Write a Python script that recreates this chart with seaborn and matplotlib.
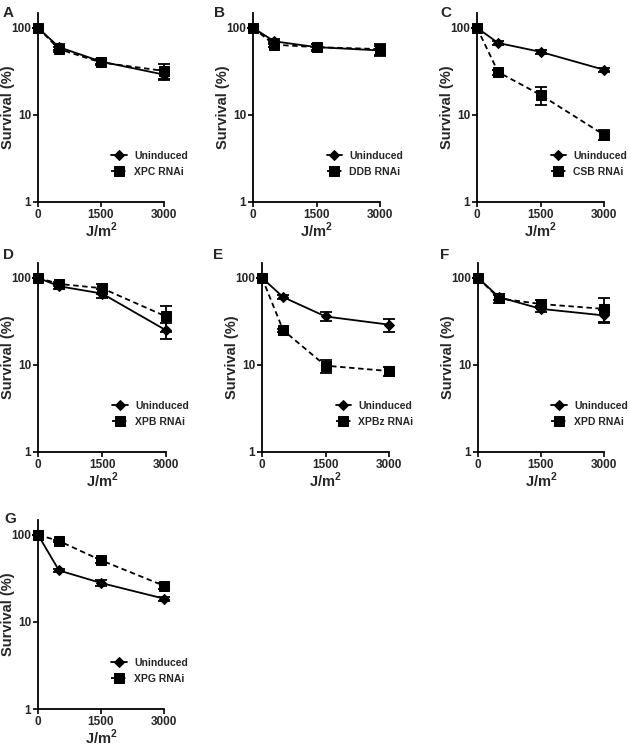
import numpy as np
import pandas as pd
import matplotlib
matplotlib.use("Agg")
import matplotlib.pyplot as plt
import seaborn as sns

sns.set_theme(style="ticks")
plt.rcParams['font.family'] = ['Liberation Sans', 'DejaVu Sans']
plt.rcParams['font.weight'] = 'bold'
plt.rcParams['mathtext.fontset'] = 'custom'
plt.rcParams['mathtext.bf'] = 'Liberation Sans:bold'
plt.rcParams['mathtext.rm'] = 'Liberation Sans:bold'

doses = [0, 500, 1500, 3000]
panel_letters = ["A", "B", "C", "D", "E", "F", "G"]
rnai_names = ["XPC RNAi", "DDB RNAi", "CSB RNAi", "XPB RNAi", "XPBz RNAi", "XPD RNAi", "XPG RNAi"]

unind_A = [100, 60, 41, 29]; unind_A_err = [0, 5, 3, 4]
rnai_A = [100, 57, 40, 32]; rnai_A_err = [0, 4, 3, 6]
unind_B = [100, 70, 60, 55]; unind_B_err = [0, 4, 5, 7]
rnai_B = [100, 64, 60, 57]; rnai_B_err = [0, 4, 6, 8]
unind_C = [100, 67, 53, 33]; unind_C_err = [0, 3, 3, 2]
rnai_C = [100, 31, 17, 5.9]; rnai_C_err = [0, 2, 4, 0.8]
unind_D = [100, 80, 66, 25]; unind_D_err = [0, 5, 8, 5]
rnai_D = [100, 85, 76, 36]; rnai_D_err = [0, 4, 10, 12]
unind_E = [100, 60, 36, 29]; unind_E_err = [0, 3, 4, 5]
rnai_E = [100, 25, 9.8, 8.5]; rnai_E_err = [0, 1, 1.7, 1]
unind_F = [100, 60, 44, 37]; unind_F_err = [0, 5, 3, 6]
rnai_F = [100, 58, 50, 44]; rnai_F_err = [0, 6, 5, 14]
unind_G = [100, 39, 28, 18.5]; unind_G_err = [0, 2, 2, 1]
rnai_G = [100, 85, 51, 26]; rnai_G_err = [0, 3, 3, 2]

unind = [unind_A, unind_B, unind_C, unind_D, unind_E, unind_F, unind_G]
unind_err = [unind_A_err, unind_B_err, unind_C_err, unind_D_err, unind_E_err, unind_F_err, unind_G_err]
rnai = [rnai_A, rnai_B, rnai_C, rnai_D, rnai_E, rnai_F, rnai_G]
rnai_err = [rnai_A_err, rnai_B_err, rnai_C_err, rnai_D_err, rnai_E_err, rnai_F_err, rnai_G_err]

W, H = 631, 747
fig = plt.figure(figsize=(W / 100, H / 100), dpi=100)

# pixel boxes: (x_left, x_right, y_top, y_bottom)
boxes = [
    (38, 164, 13, 202),
    (253, 380, 13, 202),
    (477, 604, 13, 202),
    (38, 166, 263, 452),
    (262, 389, 263, 452),
    (478, 604, 263, 452),
    (38, 164, 520, 709),
]
letter_pos = [(3, 17), (214, 17), (440, 17), (3, 259), (213, 259), (440, 259), (4, 523)]

for i in range(7):
    xl, xr, yt, yb = boxes[i]
    aw, ah = xr - xl, yb - yt
    ax = fig.add_axes([xl / W, 1 - yb / H, aw / W, ah / H])
    df = pd.DataFrame({
        "dose": doses * 2,
        "surv": unind[i] + rnai[i],
        "group": ["Uninduced"] * 4 + [rnai_names[i]] * 4,
    })
    sns.lineplot(data=df, x="dose", y="surv", hue="group", style="group",
                 palette=["black", "black"], markers=["D", "s"],
                 dashes=[(None, None), (3, 2)], markersize=6, linewidth=1.3,
                 markeredgecolor="black", ax=ax, legend=True)
    ax.errorbar(doses, unind[i], yerr=unind_err[i], fmt="none", ecolor="black",
                elinewidth=1.3, capsize=4, capthick=1.3, clip_on=False)
    ax.errorbar(doses, rnai[i], yerr=rnai_err[i], fmt="none", ecolor="black",
                elinewidth=1.3, capsize=4, capthick=1.3, clip_on=False)
    for l in ax.lines:
        l.set_clip_on(False)
        if l.get_marker() == "D":
            l.set_markersize(5)
        elif l.get_marker() == "s":
            l.set_markersize(6.5)
    ax.set_yscale("log")
    ax.set_ylim(1, 148)
    ax.set_xlim(0, 3000)
    ax.set_xticks([0, 1500, 3000])
    ax.set_xticklabels(["0", "1500", "3000"])
    ax.set_yticks([1, 10, 100])
    ax.set_yticklabels(["1", "10", "100"])
    ax.yaxis.set_minor_locator(matplotlib.ticker.NullLocator())
    ax.tick_params(axis="both", labelsize=8.5, width=1.2, length=3.5, color="black", pad=1.5)
    for t in ax.get_xticklabels() + ax.get_yticklabels():
        t.set_fontweight("bold")
    ax.set_xlabel("J/m$^\\mathbf{2}$", fontsize=10.5, fontweight="bold", labelpad=0)
    ax.set_ylabel("Survival (%)", fontsize=10.5, fontweight="bold")
    ax.yaxis.set_label_coords(-23 / aw, 0.5)
    sns.despine(ax=ax)
    for s in ["left", "bottom"]:
        ax.spines[s].set_linewidth(1.3)
        ax.spines[s].set_color("black")
    ax.set_facecolor("none")
    hx = (111 - 38) / 126
    hy = (202 - 151) / 189
    leg = ax.legend(loc="upper left", bbox_to_anchor=(hx, hy), frameon=False,
                    borderpad=0, borderaxespad=0,
                    handlelength=1.5, handletextpad=0.7, labelspacing=0.55,
                    prop={"weight": "bold", "size": 7.5})
    for h in leg.legend_handles:
        if h.get_marker() == "D":
            h.set_markersize(5)
        elif h.get_marker() == "s":
            h.set_markersize(6.5)
    fig.text(letter_pos[i][0] / W, 1 - letter_pos[i][1] / H, panel_letters[i],
             fontsize=11, fontweight="bold", ha="left", va="baseline")

fig.savefig("out.png", dpi=100, facecolor="white")
